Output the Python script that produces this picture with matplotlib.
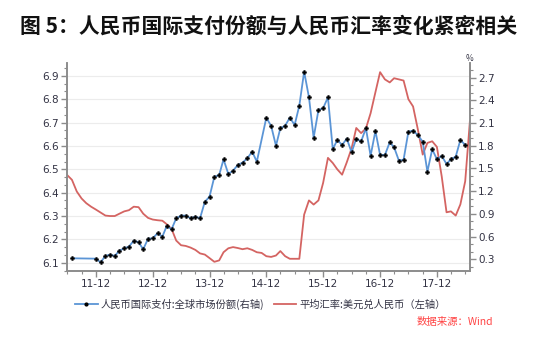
import pandas as pd
import matplotlib
matplotlib.use("Agg")
import matplotlib.pyplot as plt
import matplotlib.dates as mdates
from matplotlib.ticker import FixedLocator, MultipleLocator, FormatStrFormatter
from matplotlib.lines import Line2D

plt.rcParams["font.family"] = ["Noto Sans CJK SC", "DejaVu Sans"]
plt.rcParams["axes.unicode_minus"] = False

# ==========================
# DATA
# ==========================
# USD/CNY monthly average rate, 2011-06 .. 2018-07 (left axis)
rate_months = pd.date_range("2011-06-01", "2018-07-01", freq="MS")
usd_cny = [
    6.475, 6.455, 6.405, 6.375, 6.355, 6.340, 6.328,
    6.315, 6.302, 6.300, 6.300, 6.310, 6.320, 6.325, 6.340, 6.338, 6.310, 6.292, 6.285,
    6.282, 6.280, 6.265, 6.245, 6.195, 6.175, 6.172, 6.165, 6.155, 6.140, 6.135, 6.120,
    6.104, 6.110, 6.145, 6.162, 6.167, 6.163, 6.158, 6.162, 6.155, 6.145, 6.142, 6.128,
    6.125, 6.131, 6.150, 6.128, 6.117, 6.117, 6.117, 6.306, 6.367, 6.349, 6.367, 6.442,
    6.549, 6.527, 6.500, 6.477, 6.530, 6.590, 6.677, 6.655, 6.675, 6.740, 6.830, 6.916,
    6.885, 6.872, 6.890, 6.885, 6.880, 6.800, 6.769, 6.670, 6.563, 6.613, 6.620, 6.596,
    6.470, 6.316, 6.320, 6.302, 6.350, 6.449, 6.705,
]

# RMB share of global payments, % (right axis); no readings for 2011-08..11 and 2014-11
share_months = (
    [pd.Timestamp("2011-07-01")]
    + [d for d in pd.date_range("2011-12-01", "2018-06-01", freq="MS")
       if d != pd.Timestamp("2014-11-01")]
)
rmb_share = [
    0.313,
    0.308,
    0.260, 0.344, 0.361, 0.344, 0.414, 0.445, 0.467, 0.546, 0.525, 0.432, 0.572, 0.577,
    0.644, 0.599, 0.740, 0.696, 0.842, 0.877, 0.877, 0.842, 0.863, 0.842, 1.060, 1.127,
    1.390, 1.414, 1.620, 1.427, 1.471, 1.546, 1.577, 1.635, 1.722, 1.590, 2.171,
    2.062, 1.800, 2.031, 2.066, 2.171, 2.075, 2.330, 2.779, 2.440, 1.907, 2.273, 2.296,
    2.440, 1.754, 1.877, 1.810, 1.894, 1.714, 1.894, 1.857, 2.031, 1.667, 1.995, 1.678,
    1.678, 1.846, 1.780, 1.603, 1.616, 1.986, 1.999, 1.939, 1.854, 1.458, 1.754, 1.622,
    1.665, 1.559, 1.622, 1.656, 1.877, 1.810,
]

left_ticks = [6.1, 6.2, 6.3, 6.4, 6.5, 6.6, 6.7, 6.8, 6.9]
right_ticks = [0.3, 0.6, 0.9, 1.2, 1.5, 1.8, 2.1, 2.4, 2.7]

title = "图 5：人民币国际支付份额与人民币汇率变化紧密相关"
share_label = "人民币国际支付:全球市场份额(右轴)"
rate_label = "平均汇率:美元兑人民币（左轴）"
source = "数据来源：Wind"

BLUE = "#5b95d6"
RED = "#d46462"
AXIS = "#8c8c8c"
TEXT = "#333344"

# ==========================
# FIGURE
# ==========================
fig = plt.figure(figsize=(5.37, 3.42), dpi=100)
ax = fig.add_axes([0.1253, 0.2085, 0.7497, 0.6065])
ax2 = ax.twinx()

ax.plot(rate_months, usd_cny, color=RED, lw=1.3, zorder=2)
ax2.plot(share_months, rmb_share, color=BLUE, lw=1.3, marker="P", ms=3.0,
         mfc="black", mec="black", mew=0.3, zorder=3)

ax.set_xlim(pd.Timestamp("2011-06-01"), pd.Timestamp("2018-07-01"))
ax.set_ylim(6.066, 6.954)
ax2.set_ylim(0.149, 2.89)

# x axis: labels at each December, minor ticks every quarter
ax.xaxis.set_major_locator(mdates.MonthLocator(bymonth=12))
ax.xaxis.set_minor_locator(mdates.MonthLocator(bymonth=[3, 6, 9]))
ax.xaxis.set_major_formatter(mdates.DateFormatter("%y-%m"))

ax.yaxis.set_major_locator(FixedLocator(left_ticks))
ax.yaxis.set_minor_locator(MultipleLocator(0.1 / 3))
ax.yaxis.set_major_formatter(FormatStrFormatter("%.1f"))
ax2.yaxis.set_major_locator(FixedLocator(right_ticks))
ax2.yaxis.set_minor_locator(MultipleLocator(0.1))
ax2.yaxis.set_major_formatter(FormatStrFormatter("%.1f"))

ax.grid(axis="y", color="#ececec", lw=0.8)
ax.set_axisbelow(True)

for a in (ax, ax2):
    a.spines["top"].set_visible(False)
    for side in ("left", "right", "bottom"):
        a.spines[side].set_color(AXIS)
        a.spines[side].set_linewidth(1.2)
    a.tick_params(which="major", length=4, width=1, color=AXIS,
                  labelsize=7.5, labelcolor=TEXT, pad=2)
    a.tick_params(which="minor", length=2.5, width=0.8, color=AXIS)
    for lbl in a.get_xticklabels() + a.get_yticklabels():
        lbl.set_fontfamily("DejaVu Sans")

ax2.text(1.0, 1.0, "%", transform=ax2.transAxes, fontsize=6,
         color=TEXT, ha="center", va="bottom")

fig.text(0.5, 0.925, title, ha="center", va="center", fontsize=15,
         fontweight="bold", color="#111111")

handles = [
    Line2D([], [], color=BLUE, lw=1.3, marker="o", ms=2, mfc="black", mec="black"),
    Line2D([], [], color=RED, lw=1.3),
]
fig.legend(handles, [share_label, rate_label], loc="center", ncol=2,
           bbox_to_anchor=(0.485, 0.111), frameon=False, fontsize=7.4,
           handlelength=2.2, handletextpad=0.3, columnspacing=0.9,
           labelcolor=TEXT)

fig.text(0.918, 0.058, source, ha="right", va="center", fontsize=7.5,
         style="italic", color="#ff4444")

fig.savefig("out.png", dpi=100)
